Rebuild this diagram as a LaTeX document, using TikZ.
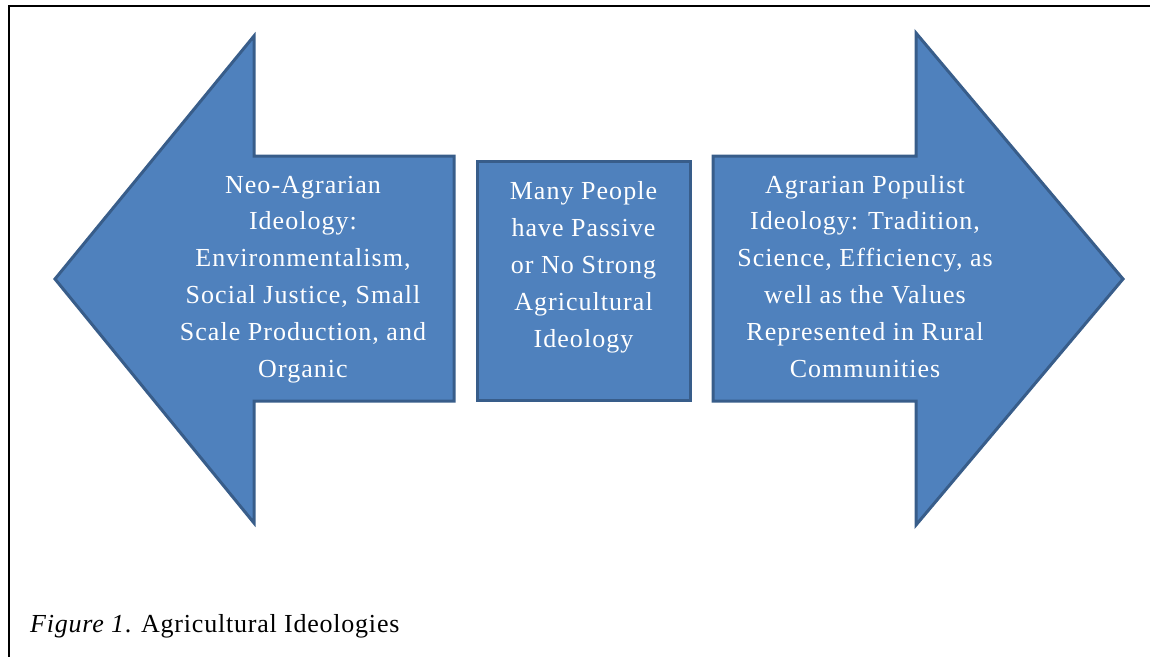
\documentclass[tikz,border=0pt]{standalone}
\usepackage{fontspec}
\newfontfamily\tnr[LetterSpace=4]{Liberation Serif}
\newfontfamily\capfont[LetterSpace=3]{Liberation Serif}
\definecolor{ofill}{HTML}{4F81BD}
\definecolor{oline}{HTML}{385D8A}
\begin{document}
\begin{tikzpicture}[x=1pt,y=-1pt,
  shapestyle/.style={fill=ofill,draw=oline,line width=3pt,line join=miter},
  boxtext/.style={text=white,align=center,inner sep=0pt,anchor=base,font=\tnr\fontsize{26}{36.8}\selectfont}]
\useasboundingbox (0,0) rectangle (1150,656);
\draw[line width=2pt] (8.5,657) -- (8.5,6) -- (1151,6);
% left arrow
\draw[shapestyle] (55,279) -- (254,36) -- (254,156) -- (454,156) -- (454,401) -- (254,401) -- (254,523) -- cycle;
% right arrow
\draw[shapestyle] (1123,279) -- (916,33) -- (916,156) -- (713,156) -- (713,401) -- (916,401) -- (916,525) -- cycle;
% centre box
\node[shapestyle,rectangle,minimum width=213pt,minimum height=239pt,inner sep=0pt] (mid) at (583.5,280.5) {};
\node[boxtext] (lefttext) at (303,377) {Neo-Agrarian\\Ideology:\\Environmentalism,\\Social Justice, Small\\Scale Production, and\\Organic};
\node[boxtext] (midtext) at (583.5,347) {Many People\\have Passive\\or No Strong\\Agricultural\\Ideology};
\node[boxtext] (righttext) at (865,377) {Agrarian Populist\\Ideology: Tradition,\\Science, Efficiency, as\\well as the Values\\Represented in Rural\\Communities};
\node[anchor=base west,inner sep=0pt,font=\capfont\fontsize{26}{30}\selectfont] (caption) at (30,632) {\textit{Figure 1}\/. Agricultural Ideologies};
\end{tikzpicture}
\end{document}
